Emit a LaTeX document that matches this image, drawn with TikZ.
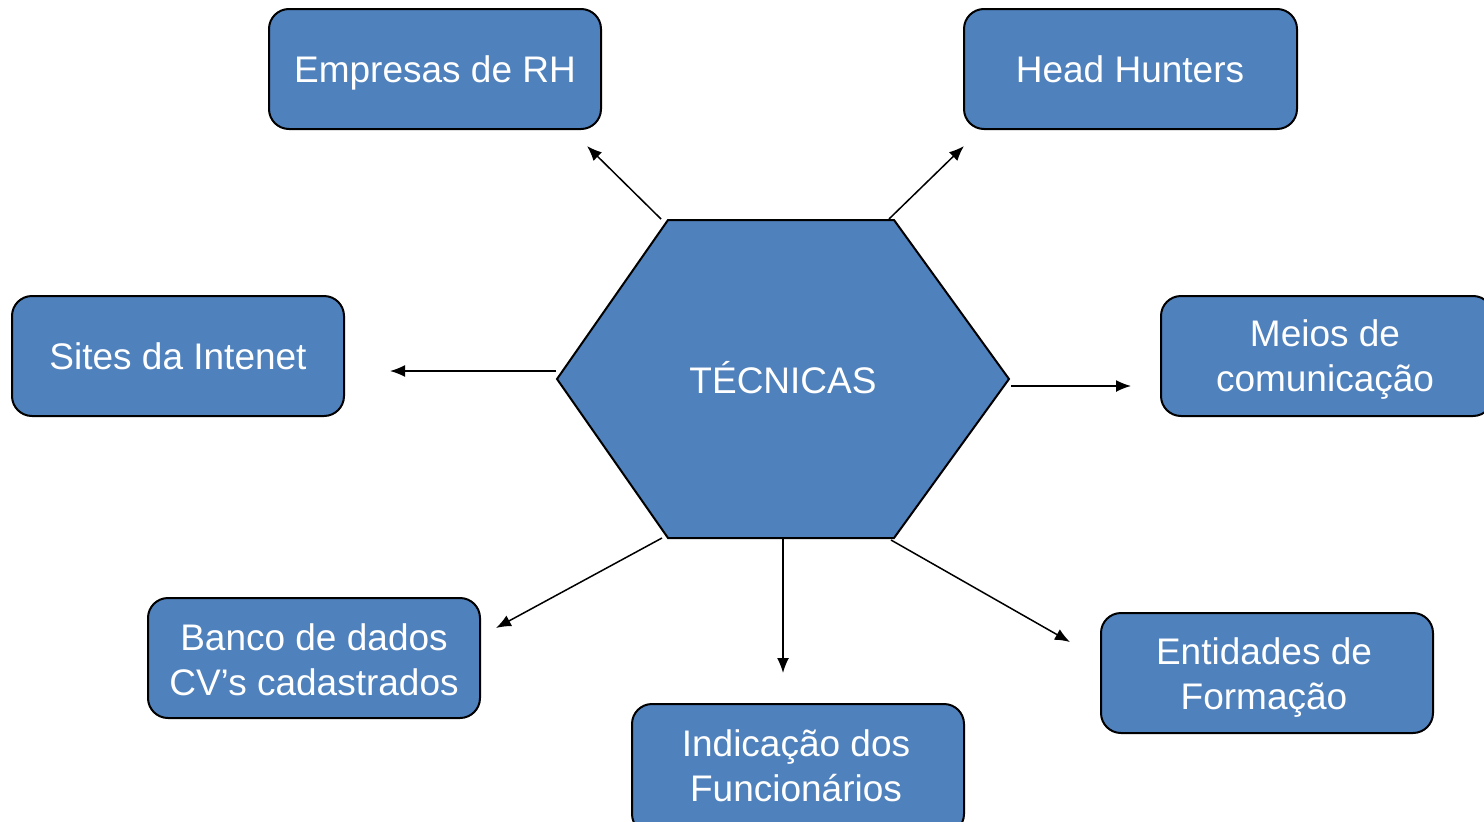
\documentclass[tikz,border=0pt]{standalone}
\usepackage{fontspec}
\setmainfont{Liberation Sans}
\usetikzlibrary{arrows.meta}
\definecolor{boxblue}{HTML}{4F81BD}
\begin{document}
\begin{tikzpicture}[x=1pt,y=-1pt,
  lbl/.style={font=\fontsize{37}{45}\selectfont, text=white, align=center},
  box/.style={draw=black, line width=2pt, fill=boxblue, rounded corners=20pt},
  arr/.style={line width=1.5pt, -{Latex[length=15pt,width=12pt]}}]
\useasboundingbox (0,0) rectangle (1484,822);
\begin{scope}
\clip (0,0) rectangle (1484,822);
% boxes
\draw[box] (269,9) rectangle (601,129);
\node[lbl] (rh) at (435,73) {Empresas de RH};
\draw[box] (964,9) rectangle (1297,129);
\node[lbl] (hh) at (1130,69) {Head Hunters};
\draw[box] (12,296) rectangle (344,416);
\node[lbl] (si) at (178,356) {Sites da Intenet};
\draw[box] (1161,296) rectangle (1493,416);
\node[lbl] (mc) at (1325,360) {Meios de\\comunicação};
\draw[box] (148,598) rectangle (480,718);
\node[lbl] (bd) at (314,660) {Banco de dados\\CV’s cadastrados};
\draw[box] (632,704) rectangle (964,834);
\node[lbl] (ind) at (796,766) {Indicação dos\\Funcionários};
\draw[box] (1101,613) rectangle (1433,733);
\node[lbl] (ent) at (1264,678) {Entidades de\\Formação};
% hexagon
\coordinate (h1) at (557,379);
\coordinate (h2) at (668,220);
\coordinate (h3) at (894,220);
\coordinate (h4) at (1009,379);
\coordinate (h5) at (894,538);
\coordinate (h6) at (668,538);
\draw[fill=boxblue, line width=2pt, line join=miter] (h1) -- (h2) -- (h3) -- (h4) -- (h5) -- (h6) -- cycle;
\node[lbl] (tec) at (783,378) {TÉCNICAS};
% connector ends
\coordinate (s1) at (661,219); \coordinate (e1) at (587,146);
\coordinate (s2) at (889,219); \coordinate (e2) at (964,146);
\coordinate (s3) at (556,371); \coordinate (e3) at (390,371);
\coordinate (s4) at (1011,386); \coordinate (e4) at (1131,386);
\coordinate (s5) at (662,538); \coordinate (e5) at (496,628);
\coordinate (s6) at (783,538); \coordinate (e6) at (783,673);
\coordinate (s7) at (891,540); \coordinate (e7) at (1070,642);
\draw[arr] (s1) -- (e1);
\draw[arr] (s2) -- (e2);
\draw[arr] (s3) -- (e3);
\draw[arr] (s4) -- (e4);
\draw[arr] (s5) -- (e5);
\draw[arr] (s6) -- (e6);
\draw[arr] (s7) -- (e7);
\end{scope}
\end{tikzpicture}
\end{document}
